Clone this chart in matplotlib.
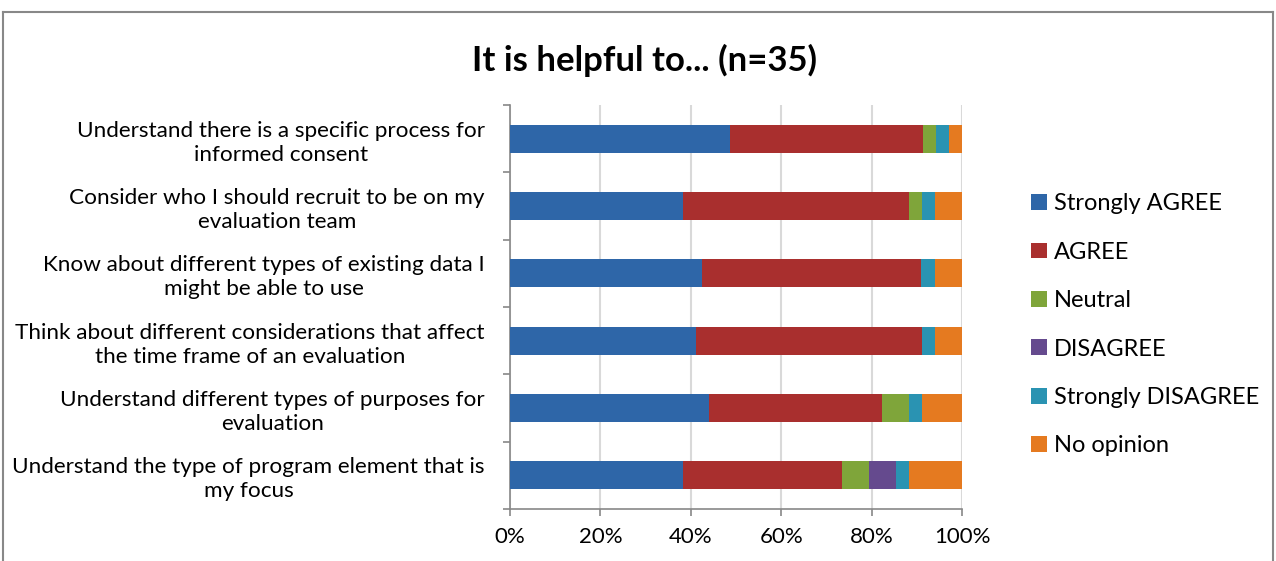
import matplotlib.pyplot as plt
import numpy as np
from matplotlib.lines import Line2D
from matplotlib.patches import Patch
from matplotlib.ticker import PercentFormatter

# Survey data (response counts per statement)
statements = [
    'Understand there is a specific process for\ninformed consent',
    'Consider who I should recruit to be on my\nevaluation team',
    'Know about different types of existing data I\nmight be able to use',
    'Think about different considerations that affect\nthe time frame of an evaluation',
    'Understand different types of purposes for\nevaluation',
    'Understand the type of program element that is\nmy focus',
]
responses = ['Strongly AGREE', 'AGREE', 'Neutral', 'DISAGREE', 'Strongly DISAGREE', 'No opinion']
strongly_agree = [17, 13, 14, 14, 15, 13]
agree = [15, 17, 16, 17, 13, 12]
neutral = [1, 1, 0, 0, 2, 2]
disagree = [0, 0, 0, 0, 0, 2]
strongly_disagree = [1, 1, 1, 1, 1, 1]
no_opinion = [1, 2, 2, 2, 3, 4]
colors = ['#2E66A8', '#A92F2E', '#7FA53A', '#654A8E', '#2A93B2', '#E57A20']

plt.rcParams['font.family'] = ['Lato', 'DejaVu Sans']

counts = np.array([strongly_agree, agree, neutral, disagree, strongly_disagree, no_opinion], dtype=float)
pct = counts / counts.sum(axis=0) * 100

fig = plt.figure(figsize=(12.76, 5.61), dpi=100)
ax = fig.add_axes([510 / 1276, 1 - 509 / 561, 452 / 1276, 404 / 561])

y = np.arange(len(statements))
left = np.zeros(len(statements))
for i, name in enumerate(responses):
    ax.barh(y, pct[i], left=left, height=0.42, color=colors[i], label=name, zorder=3)
    left += pct[i]

ax.set_xlim(0, 100)
ax.set_ylim(len(statements) - 0.5, -0.5)
ax.set_xticks(np.arange(0, 101, 20))
ax.xaxis.set_major_formatter(PercentFormatter(decimals=0))
ax.set_yticks(y)
ax.set_yticklabels(statements, fontsize=16.2, linespacing=1.25)
ax.set_yticks(np.arange(-0.5, len(statements)), minor=True)
ax.tick_params(axis='y', which='major', length=0, pad=18)
ax.tick_params(axis='y', which='minor', length=5, color='#888888', width=1.2)
ax.tick_params(axis='x', length=5, color='#888888', width=1.2, labelsize=16, pad=8)
for lbl in ax.get_yticklabels():
    lbl.set_horizontalalignment('right')
    lbl.set_multialignment('center')

ax.grid(axis='x', color='#D9D9D9', linewidth=1.5, zorder=0)
for side in ['top', 'right']:
    ax.spines[side].set_visible(False)
for side in ['left', 'bottom']:
    ax.spines[side].set_color('#888888')
    ax.spines[side].set_linewidth(1.2)

fig.text(645 / 1276, 1 - 60 / 561, 'It is helpful to... (n=35)', ha='center', va='center',
         fontsize=25, fontweight='bold')

handles = [Patch(facecolor=c) for c in colors]
fig.legend(handles, responses, loc='upper left', bbox_to_anchor=(1022 / 1276, 1 - 184 / 561),
           frameon=False, fontsize=17, handlelength=0.65, handleheight=0.65,
           handletextpad=0.3, labelspacing=1.16, borderaxespad=0)

# outer chart border
border = dict(color='#888888', linewidth=1.5, transform=fig.transFigure)
fig.add_artist(Line2D([3 / 1276, 1273 / 1276], [1 - 12 / 561, 1 - 12 / 561], **border))
fig.add_artist(Line2D([3 / 1276, 3 / 1276], [0, 1 - 12 / 561], **border))
fig.add_artist(Line2D([1273 / 1276, 1273 / 1276], [0, 1 - 12 / 561], **border))

fig.savefig('out.png', dpi=100)
